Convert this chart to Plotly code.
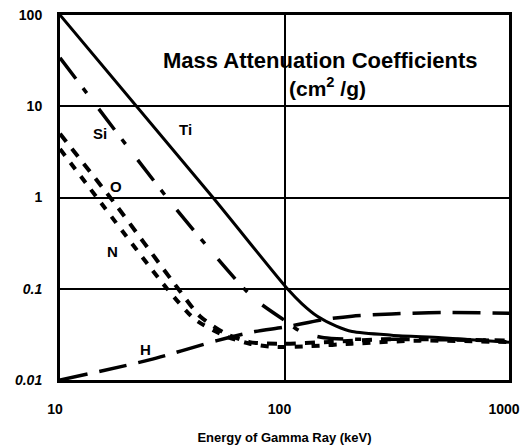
import plotly.graph_objects as go

# Energy (keV) and mass attenuation coefficient (cm^2/g)
ti_e = [10, 48, 103, 120, 140, 170, 200, 300, 500, 1000]
ti_mu = [100, 1.0, 0.1, 0.068, 0.05, 0.039, 0.034, 0.031, 0.029, 0.026]

si_e = [10, 32.6, 72, 100, 118, 150, 200, 300, 500, 1000]
si_mu = [34, 0.77, 0.081, 0.045, 0.034, 0.029, 0.028, 0.028, 0.028, 0.027]

o_e = [10, 17.3, 33.6, 42, 55, 70, 100, 150, 300, 1000]
o_mu = [5.0, 0.9, 0.1, 0.05, 0.032, 0.026, 0.025, 0.026, 0.028, 0.027]

n_e = [10, 14.6, 30, 40, 55, 70, 90, 130, 200, 400, 1000]
n_mu = [3.4, 1.0, 0.1, 0.046, 0.03, 0.025, 0.023, 0.0235, 0.025, 0.027, 0.026]

h_e = [10, 25, 50, 74, 100, 150, 200, 300, 500, 1000]
h_mu = [0.01, 0.0166, 0.027, 0.034, 0.038, 0.046, 0.05, 0.053, 0.055, 0.054]

y_ticks = [100, 10, 1, 0.1, 0.01]
y_labels = ["100", "10", "1", "<i>0.1</i>", "<i>0.01</i>"]
x_ticks = [10, 100, 1000]
x_labels = ["10", "100", "1000"]

series = [
    ("Ti", ti_e, ti_mu, "solid", 3),
    ("Si", si_e, si_mu, "26px,12px,6px,20px", 3.5),
    ("O", o_e, o_mu, "10px,9px", 4),
    ("N", n_e, n_mu, "8px,9px", 4),
    ("H", h_e, h_mu, "28px,12px", 3.5),
]

fig = go.Figure()
for name, e, mu, dash, w in series:
    fig.add_trace(go.Scatter(
        x=e, y=mu, mode="lines", name=name,
        line=dict(color="black", width=w, dash=dash, shape="spline", smoothing=0.7),
        showlegend=False,
    ))

font = "Liberation Sans, Arial, sans-serif"

labels = [
    ("Ti", 1.558, 0.74),
    ("Si", 1.179, 0.696),
    ("O", 1.25, 0.126),
    ("N", 1.232, -0.597),
    ("H", 1.379, -1.671),
]
for txt, lx, ly in labels:
    fig.add_annotation(x=lx, y=ly, xref="x", yref="y", text="<b>%s</b>" % txt,
                       showarrow=False, font=dict(family=font, size=15, color="black"))

fig.add_annotation(x=0.581, y=0.915, xref="paper", yref="paper",
                   text="<b>Mass Attenuation Coefficients</b>", showarrow=False,
                   font=dict(family=font, size=22, color="black"))
fig.add_annotation(x=0.595, y=0.845, xref="paper", yref="paper",
                   text="<b>(cm<sup>2</sup> /g)</b>", showarrow=False,
                   font=dict(family=font, size=21, color="black"))

fig.update_layout(
    width=524, height=448,
    margin=dict(l=60, r=15, t=15, b=68, autoexpand=False),
    paper_bgcolor="white", plot_bgcolor="white",
    font=dict(family=font, color="black"),
)
fig.update_xaxes(
    type="log", range=[1, 3], automargin=False,
    tickvals=x_ticks, ticktext=x_labels,
    tickfont=dict(family=font, size=14, weight="bold", color="black"),
    ticks="", ticklabelstandoff=14, ticklabelshift=-5,
    showgrid=True, gridcolor="black", gridwidth=1.5,
    showline=True, linecolor="black", linewidth=3, mirror=True,
    zeroline=False,
    title=dict(text="<b>Energy of Gamma Ray (keV)</b>", standoff=18,
               font=dict(family=font, size=13, color="black")),
)
fig.update_yaxes(
    type="log", range=[-2, 2], automargin=False,
    tickvals=y_ticks, ticktext=y_labels,
    tickfont=dict(family=font, size=14, weight="bold", color="black"),
    ticks="", ticklabelstandoff=12,
    showgrid=True, gridcolor="black", gridwidth=1.5,
    showline=True, linecolor="black", linewidth=3, mirror=True,
    zeroline=False,
)

fig.write_html("out.html", config={"displayModeBar": False},
               post_script="document.body.style.margin='0';document.body.style.overflow='hidden';")
